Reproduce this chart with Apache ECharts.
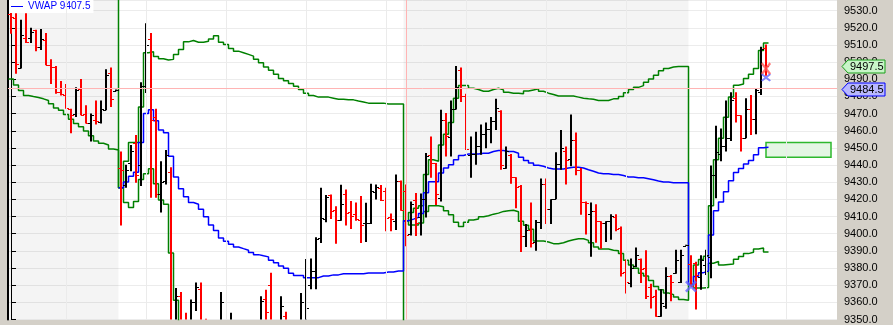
<!DOCTYPE html>
<html>
<head>
<meta charset="utf-8">
<title>VWAP bands</title>
<script src="https://cdn.jsdelivr.net/npm/echarts@6/dist/echarts.min.js"></script>
<style>
  html, body { margin: 0; padding: 0; background: #d4d0c8; }
  #chart { width: 893px; height: 325px; }
</style>
</head>
<body>
<div id="chart"></div>
<script>
// OHLC bars, one per slot (index 0..151)
const barOpen = [
  9528, 9525.6, 9496.8, 9514, 9514, 9518.5, 9509, 9513, 9498.3, 9497.2,
  9482.5, 9481, 9472.6, 9470, 9484.4, 9470, 9464.8, 9466.1, 9465.2, 9472.3,
  9493.6, 9483.4, 9438.5, 9428.5, 9441, 9452.7, 9440.2, 9486, 9513.5, 9468,
  9423, 9430.8, 9435.8, 9345, 9363.5, 9350, 9340, 9360, 9368, 9348,
  9335, 9340, 9340, 9345, 9335, 9340, 9345, 9332, 9340, 9345,
  9345, 9362, 9370, 9340, 9340, 9352, 9335, 9340, 9342, 9348,
  9370, 9378, 9397.6, 9408.6, 9422.4, 9414, 9408, 9423, 9412.4, 9411.6,
  9408, 9406, 9406.3, 9424.5, 9426.8, 9425, 9409.5, 9407.2, 9430.7, 9424.9,
  9399.6, 9419.7, 9409.5, 9420.1, 9445.6, 9441, 9421, 9466.1, 9456.6, 9472.8,
  9495.5, 9480.5, 9445.6, 9446.4, 9451.4, 9457.9, 9461, 9465.5, 9471.3, 9438.3,
  9446, 9432.9, 9427.8, 9398.4, 9402.2, 9395.2, 9406.8, 9429.1, 9414.3, 9420.5,
  9440.6, 9448.3, 9443.5, 9454.6, 9437.3, 9418.5, 9411.4, 9413.4, 9407.2, 9406.1,
  9407.2, 9409.5, 9403.4, 9377.8, 9371.2, 9381.2, 9385.5, 9379.8, 9369.2, 9363.8,
  9352, 9357.7, 9375.4, 9377, 9372.1, 9393, 9382.4, 9383, 9374.6, 9382,
  9386.5, 9434.5, 9446.3, 9451.4, 9455.6, 9479, 9469, 9456, 9472.8, 9467,
  9482.5, 9508.3
];
const barHigh = [
  9528.6, 9528.5, 9524.7, 9528.5, 9520, 9518.9, 9519.3, 9517, 9501.6, 9497.8,
  9489, 9487.2, 9472.8, 9485.3, 9490.1, 9474.8, 9470, 9477.6, 9477.6, 9495.9,
  9496.8, 9484, 9447.9, 9440.2, 9451.7, 9457.5, 9488.2, 9522.6, 9517, 9472.8,
  9442.2, 9448.8, 9438.7, 9368.3, 9366, 9354, 9361.7, 9371.6, 9371.6, 9350.5,
  9345, 9346, 9366, 9347, 9354, 9348, 9347, 9345, 9347, 9348,
  9363.5, 9367.3, 9377.3, 9346, 9363.5, 9354.5, 9348, 9349, 9365.4, 9385.2,
  9385.5, 9397.9, 9426.8, 9422.6, 9422.9, 9416, 9428.5, 9425.8, 9419.1, 9418.2,
  9422, 9418, 9429.1, 9428.7, 9428.4, 9426.8, 9411.8, 9434.5, 9431, 9428.7,
  9418.7, 9423.7, 9423.4, 9447, 9456.6, 9441.2, 9472.3, 9470.4, 9477.6, 9497.8,
  9496.8, 9481.5, 9456.6, 9459.4, 9463.6, 9464.8, 9468, 9478.6, 9471.9, 9450.8,
  9446.4, 9432.9, 9428.4, 9405.7, 9418.2, 9408, 9432.2, 9432.2, 9420.1, 9447.5,
  9460.4, 9450.8, 9469.4, 9459, 9438.3, 9418.7, 9418.2, 9417.2, 9407.2, 9407.2,
  9411.4, 9411.4, 9404.2, 9385, 9385.5, 9391.9, 9385.5, 9390.4, 9370.8, 9367.3,
  9367.7, 9380.4, 9376, 9390.7, 9390.7, 9393.5, 9387.5, 9383.6, 9387.5, 9390.7,
  9439.8, 9462.9, 9461.3, 9477.6, 9482.5, 9482.5, 9469, 9479, 9480.9, 9484.4,
  9508.9, 9510.2
];
const barLow = [
  9516.5, 9493.2, 9496.3, 9511.2, 9511.2, 9506.4, 9507, 9498.2, 9487.2, 9481.5,
  9480.5, 9472.8, 9458.5, 9468, 9469, 9464.2, 9453.7, 9463.6, 9464.2, 9471.9,
  9473.8, 9483, 9404.8, 9426.8, 9436.4, 9429.7, 9427.8, 9482, 9421, 9421,
  9412.4, 9428.7, 9340, 9335, 9335, 9335, 9335, 9354.9, 9330, 9330,
  9325, 9328, 9335, 9330, 9330, 9330, 9330, 9328, 9330, 9330,
  9335, 9349, 9335, 9330, 9335, 9330, 9332, 9335, 9340, 9345,
  9367.7, 9367.7, 9394.6, 9406.7, 9408.6, 9394.2, 9407.6, 9404.8, 9402.8, 9407.6,
  9394.6, 9395.2, 9405.7, 9420, 9419.1, 9401.5, 9401.5, 9402.2, 9413.4, 9392.7,
  9399, 9398.6, 9399, 9409.5, 9432.6, 9416.8, 9418.7, 9445, 9445, 9472.4,
  9476.7, 9448.8, 9432.6, 9440.2, 9446, 9449.8, 9452.7, 9460.4, 9437.3, 9437.9,
  9429.1, 9414.9, 9389.4, 9392.3, 9391.9, 9390, 9402.8, 9405.7, 9405.7, 9420.1,
  9437.3, 9428.7, 9439.3, 9434.1, 9411.1, 9399.6, 9386.5, 9394.8, 9391.3, 9395.2,
  9396.5, 9401.5, 9375.1, 9365.1, 9368.8, 9380.4, 9371.2, 9361.9, 9356.4, 9351.6,
  9351.6, 9356.2, 9360.6, 9376.6, 9371.2, 9393, 9369.2, 9355.8, 9367.3, 9376,
  9374, 9420.6, 9442.2, 9447.9, 9454, 9464.8, 9447.9, 9455.6, 9457.5, 9457.9,
  9480.9, 9492
];
const barClose = [
  9526.5, 9498.7, 9516, 9512, 9517.6, 9508.9, 9513.5, 9498.3, 9497.2, 9482.5,
  9481.5, 9473.2, 9469.4, 9484, 9469.4, 9464.8, 9469, 9465.5, 9472.8, 9492.4,
  9478.6, 9483.6, 9437, 9437, 9448, 9434.5, 9486.3, 9510, 9466, 9423,
  9430, 9446, 9345, 9363.5, 9345, 9340, 9360.3, 9368.7, 9340, 9335,
  9340, 9344, 9360, 9335, 9350, 9345, 9335, 9340, 9345, 9335,
  9360.5, 9354.5, 9340, 9344, 9358, 9340, 9345, 9347, 9360, 9356.8,
  9378, 9397, 9409, 9421.5, 9413.4, 9408, 9417.2, 9411.8, 9410.6, 9408.8,
  9404.8, 9406.5, 9424.9, 9427, 9419.5, 9409.1, 9408.5, 9430.7, 9413.7, 9399,
  9417.2, 9406.1, 9420.1, 9445, 9441.2, 9423, 9466.1, 9457.1, 9472.4, 9485.3,
  9480.5, 9449.4, 9446.4, 9451.4, 9457.9, 9461, 9465.8, 9473.5, 9440.2, 9448.3,
  9432.9, 9427.2, 9398.4, 9402.2, 9394.8, 9406.8, 9429.1, 9414.3, 9420.1, 9440.6,
  9449.8, 9443, 9454.6, 9437.3, 9418.7, 9417.7, 9413.4, 9407.2, 9406.1, 9407.2,
  9410.6, 9403, 9376.9, 9372.1, 9379.8, 9387.5, 9379.2, 9363.5, 9363.1, 9352,
  9359.6, 9375.4, 9371.6, 9384.6, 9387.5, 9393.5, 9369.8, 9376, 9384.6, 9387.3,
  9434.5, 9447.9, 9451.4, 9455.6, 9478.2, 9469.4, 9456, 9472.8, 9467.1, 9484,
  9507.8, 9497.5
];

// VWAP and its bands, same slots; a new session restarts them
const vwap = [
  null, null, null, null, null, null, null, null, null, null, null,
  null, null, null, null, null, null, null, null, null, null, null,
  9426.8, 9430.1, 9433.5, 9435.8, 9453.1, 9470.0, 9472.3, 9465.8, 9460.4, 9458.9,
  9445.1, 9433.0, 9426.2, 9421.5, 9418.2, 9417.2, 9414.3, 9409.9, 9405.1, 9401.9,
  9397.5, 9395.6, 9393.8, 9392.3, 9391.3, 9390.4, 9389.0, 9387.8, 9387.1, 9386.5,
  9384.6, 9383.1, 9381.2, 9379.8, 9376.9, 9375.6, 9375.6, 9374.4, 9374.4, 9374.4,
  9375.4, 9375.4, 9376.0, 9376.0, 9376.6, 9376.6, 9376.6, 9376.6, 9376.6, 9377.1,
  9377.1, 9377.1, 9377.1, 9377.7, 9377.7, 9378.3, 9378.3,
  9407.6, 9408.5, 9409.5, 9411.8, 9423.9, 9430.3, 9430.3, 9435.4, 9438.3, 9440.2,
  9443.1, 9445.6, 9446.4, 9446.4, 9446.4, 9446.9, 9446.9, 9447.9, 9448.5, 9448.5,
  9447.9, 9447.9, 9446.9, 9444.6, 9442.7, 9441.2, 9439.9, 9439.3, 9438.3, 9437.7,
  9437.7, 9437.7, 9438.3, 9438.7, 9438.7, 9438.3, 9437.3, 9436.4, 9435.4, 9434.9,
  9434.9, 9434.5, 9434.5, 9433.9, 9433.1, 9433.1, 9432.6, 9432.6, 9432.0, 9431.4,
  9430.7, 9430.1, 9430.1, 9429.7, 9429.7, 9429.7, 9429.7,
  9370.4, 9375.0, 9377.3, 9378.2, 9399.2, 9413.4, 9418.5, 9424.5, 9430.8, 9435.7,
  9438.0, 9440.6, 9442.6, 9446.0, 9450.1, 9450.4
];
const upperBand = [
  9562, 9561, 9560, 9560, 9559, 9558, 9557, 9556, 9555, 9554, 9553,
  9552, 9551, 9550, 9549, 9548, 9547, 9546, 9545, 9545, 9544, 9544,
  9426.8, 9442.2, 9453.1, 9453.1, 9473.8, 9505.5, 9506.1, 9503.2, 9502.0, 9501.2,
  9501.6, 9504.5, 9507.4, 9511.8, 9512.6, 9511.6, 9511.6, 9512.2, 9513.5, 9515.4,
  9511.6, 9510.3, 9508.0, 9506.4, 9505.5, 9504.5, 9503.5, 9501.6, 9499.7, 9497.2,
  9495.3, 9493.0, 9490.5, 9489.1, 9487.6, 9485.9, 9484.0, 9481.9, 9480.5, 9479.6,
  9479.6, 9479.6, 9479.0, 9478.4, 9478.4, 9478.0, 9478.0, 9477.3, 9476.7, 9476.1,
  9476.1, 9476.1, 9476.1, 9475.6, 9475.6, 9475.6, 9475.6,
  9407.6, 9412.4, 9414.9, 9416.3, 9434.5, 9443.1, 9442.2, 9451.7, 9457.9, 9464.8,
  9479.0, 9486.3, 9486.3, 9484.8, 9484.0, 9483.0, 9483.0, 9484.0, 9484.8, 9483.8,
  9482.5, 9481.9, 9481.9, 9481.5, 9483.2, 9483.8, 9484.4, 9483.0, 9481.9, 9481.1,
  9480.2, 9480.2, 9480.2, 9480.2, 9479.6, 9479.0, 9478.6, 9478.3, 9477.6, 9477.6,
  9477.6, 9478.6, 9478.6, 9479.9, 9482.1, 9484.0, 9485.3, 9486.3, 9488.2, 9490.1,
  9492.4, 9494.9, 9496.3, 9497.2, 9497.4, 9497.4, 9497.4,
  9370.4, 9381.7, 9385.0, 9386.9, 9416.3, 9443.1, 9455.6, 9467.8, 9479.6, 9486.5,
  9487.2, 9490.5, 9493.0, 9496.3, 9506.8, 9511.2
];
const lowerBand = [
  9490.1, 9486.7, 9483.4, 9480.5, 9479.9, 9479.4, 9478.6, 9477.6, 9475.7, 9473.3, 9471.9,
  9469.4, 9466.7, 9464.2, 9462.3, 9459.8, 9457.1, 9454.0, 9452.7, 9451.7, 9449.4, 9448.8,
  9426.8, 9418.2, 9415.3, 9418.7, 9431.6, 9435.0, 9437.9, 9429.1, 9419.7, 9417.2,
  9388.8, 9361.2, 9345.0, 9331.2, 9323.8, 9322.8, 9317.0, 9307.6, 9296.7, 9288.4,
  9283.4, 9280.9, 9279.6, 9278.2, 9277.1, 9276.3, 9274.5, 9274.0, 9274.5, 9275.8,
  9273.9, 9273.2, 9271.9, 9270.5, 9266.2, 9265.3, 9267.2, 9266.9, 9268.3, 9269.2,
  9271.2, 9271.2, 9273.0, 9273.6, 9274.8, 9275.2, 9275.2, 9275.9, 9276.5, 9278.1,
  9278.1, 9278.1, 9278.1, 9279.8, 9279.8, 9281.0, 9281.0,
  9407.6, 9405.1, 9405.1, 9406.3, 9413.0, 9416.3, 9416.3, 9415.7, 9413.4, 9411.1,
  9406.7, 9404.2, 9406.7, 9408.0, 9408.6, 9409.9, 9410.5, 9411.4, 9412.0, 9413.0,
  9413.4, 9413.7, 9412.8, 9407.2, 9404.9, 9402.6, 9395.7, 9395.7, 9395.2, 9394.2,
  9394.2, 9394.7, 9395.7, 9396.5, 9397.1, 9397.1, 9396.1, 9394.7, 9392.3, 9391.1,
  9391.1, 9390.4, 9390.0, 9388.4, 9384.6, 9381.7, 9379.8, 9376.9, 9375.4, 9372.7,
  9369.3, 9367.4, 9365.4, 9364.5, 9363.1, 9361.6, 9361.2,
  9370.4, 9368.3, 9368.3, 9368.7, 9382.8, 9383.8, 9381.7, 9382.1, 9382.3, 9385.1,
  9386.7, 9388.4, 9389.2, 9391.1, 9391.7, 9389.4
];

// session shading (slot ranges), vertical time lines, marks
const shadedSessions = [[-0.6, 21.5], [78.5, 135.5]];
const timeLines = [11.14, 27.14, 43.14, 59.14, 75.14, 91.14, 107.14, 123.14, 139.14, 155.14];
const signalMarks = [
  { slot: 151, price: 9496.2, color: '#ff5555', size: [10, 13] },
  { slot: 151, price: 9491.0, color: '#6464ff', size: [10, 8] },
  { slot: 136, price: 9369.2, color: '#6464ff', size: [12, 12] }
];
const targetZone = { from: 151, to: 164, top: 9453.1, bottom: 9444.5 };
const vwapLabel = '9407.5';
const lastPrice = 9497.5;
const crossPrice = 9484.5;
const crossSlot = 79;

const Y_MIN = 9350;
const Y_MAX = 9536.2;
const X_SYMBOL = 'path://M0,1.5L1.5,0L5,3.5L8.5,0L10,1.5L6.5,5L10,8.5L8.5,10L5,6.5L1.5,10L0,8.5L3.5,5Z';

function stepPoints(values) {
  // each value holds for the whole slot, so start it half a slot early
  const pts = values.map((v, i) => [i - 0.5, v]);
  pts.push([values.length - 0.5, values[values.length - 1]]);
  return pts;
}

function renderBar(params, api) {
  const i = api.value(0);
  const open = api.value(1);
  const high = api.value(2);
  const low = api.value(3);
  const close = api.value(4);
  const top = api.coord([i, high]);
  const bottom = api.coord([i, low]);
  const yOpen = Math.round(api.coord([i, open])[1]) + 0.5;
  const yClose = Math.round(api.coord([i, close])[1]) + 0.5;
  const x = Math.round(top[0]);
  const color = close < open ? '#ff0000' : '#000000';
  return {
    type: 'group',
    children: [
      { type: 'line', shape: { x1: x, y1: top[1], x2: x, y2: bottom[1] }, style: { stroke: color, lineWidth: 2 } },
      { type: 'line', shape: { x1: x - 3, y1: yOpen, x2: x, y2: yOpen }, style: { stroke: color, lineWidth: 1 } },
      { type: 'line', shape: { x1: x, y1: yClose, x2: x + 3, y2: yClose }, style: { stroke: color, lineWidth: 1 } }
    ]
  };
}

const bars = barOpen.map((o, i) => [i, o, barHigh[i], barLow[i], barClose[i]]);

const option = {
  animation: false,
  backgroundColor: '#d4d0c8',
  grid: {
    left: 8, right: 56, top: 0, bottom: 2,
    show: true, backgroundColor: '#ffffff', borderWidth: 0
  },
  legend: {
    data: [{ name: 'VWAP', icon: 'rect' }],
    left: 9, top: 0,
    padding: [1, 3, 1, 2],
    itemWidth: 12, itemHeight: 1,
    backgroundColor: '#ffffff',
    selectedMode: false,
    formatter: () => 'VWAP ' + vwapLabel,
    textStyle: { color: '#0000ff', fontSize: 10, lineHeight: 11, fontFamily: 'Liberation Sans' }
  },
  xAxis: {
    type: 'value', min: -0.6, max: 165.2, show: false
  },
  yAxis: [
    {
      type: 'value', position: 'right', min: Y_MIN, max: Y_MAX, interval: 10,
      axisLine: { show: true, lineStyle: { color: '#000', width: 1 } },
      axisTick: { show: true, length: 5, lineStyle: { color: '#000' } },
      axisLabel: {
        color: '#000', fontSize: 11, fontFamily: 'Liberation Sans', margin: 7,
        showMaxLabel: false,
        formatter: v => v.toFixed(1)
      },
      splitLine: { show: true, lineStyle: { color: '#ececec', width: 1 } }
    },
    {
      type: 'value', position: 'left', min: Y_MIN, max: Y_MAX,
      axisLine: { show: true, lineStyle: { color: '#000', width: 2 } },
      axisTick: { show: false }, axisLabel: { show: false }, splitLine: { show: false }
    }
  ],
  series: [
    {
      name: 'backdrop', type: 'line', data: [], z: 1, silent: true,
      markArea: {
        silent: true,
        itemStyle: { color: 'rgba(0,0,0,0.045)' },
        data: shadedSessions.map(s => [{ xAxis: s[0] }, { xAxis: s[1] }]).concat([[
          {
            xAxis: targetZone.from, yAxis: targetZone.top,
            itemStyle: { color: '#e4f6e4', borderColor: '#2db82d', borderWidth: 1.5 }
          },
          { xAxis: targetZone.to, yAxis: targetZone.bottom }
        ]])
      },
      markLine: {
        silent: true, symbol: ['none', 'none'], label: { show: false },
        data: timeLines.map(t => ({ xAxis: t, lineStyle: { color: '#ebebeb', width: 1, type: 'solid' } })).concat([
          { yAxis: crossPrice, lineStyle: { color: '#ffb4b4', width: 1, type: 'solid' } },
          { xAxis: crossSlot, lineStyle: { color: '#ffb4b4', width: 1, type: 'solid' } }
        ])
      }
    },
    {
      name: 'Upper', type: 'line', step: 'end', data: stepPoints(upperBand),
      showSymbol: false, z: 3, silent: true,
      lineStyle: { color: '#008000', width: 1.5 }, itemStyle: { color: '#008000' }
    },
    {
      name: 'Lower', type: 'line', step: 'end', data: stepPoints(lowerBand),
      showSymbol: false, z: 3, silent: true,
      lineStyle: { color: '#008000', width: 1.5 }, itemStyle: { color: '#008000' }
    },
    {
      name: 'VWAP', type: 'line', step: 'end', data: stepPoints(vwap),
      showSymbol: false, z: 3, silent: true, connectNulls: false,
      lineStyle: { color: '#0000ff', width: 1.5 }, itemStyle: { color: '#0000ff' }
    },
    {
      name: 'Bars', type: 'custom', renderItem: renderBar, data: bars,
      encode: { x: 0, y: [1, 2, 3, 4] }, clip: true, z: 4, silent: true
    },
    {
      name: 'Signals', type: 'scatter', symbol: X_SYMBOL, z: 5, silent: true,
      data: signalMarks.map(m => ({
        value: [m.slot, m.price], symbolSize: m.size, itemStyle: { color: m.color }
      }))
    }
  ]
};

function addPriceTags(chart) {
  const tags = [
    { price: lastPrice, fill: '#c8f5c8', stroke: '#1aa01a' },
    { price: crossPrice, fill: '#b8b8ff', stroke: '#0000ff' }
  ];
  const graphics = tags.map(tag => {
    const y = Math.round(chart.convertToPixel({ yAxisIndex: 0 }, tag.price)) + 0.5;
    return {
      type: 'group', z: 100,
      children: [
        {
          type: 'polygon', z: 100,
          shape: { points: [[842, y], [848, y - 6.5], [885, y - 6.5], [885, y + 6.5], [848, y + 6.5]] },
          style: { fill: tag.fill, stroke: tag.stroke, lineWidth: 1 }
        },
        {
          type: 'text', z: 101, x: 850, y: y,
          style: {
            text: tag.price.toFixed(1), fill: '#000', fontSize: 11,
            fontFamily: 'Liberation Sans', verticalAlign: 'middle'
          }
        }
      ]
    };
  });
  chart.setOption({ graphic: graphics });
}

const chart = echarts.init(document.getElementById('chart'));
chart.setOption(option);
addPriceTags(chart);
</script>
</body>
</html>
